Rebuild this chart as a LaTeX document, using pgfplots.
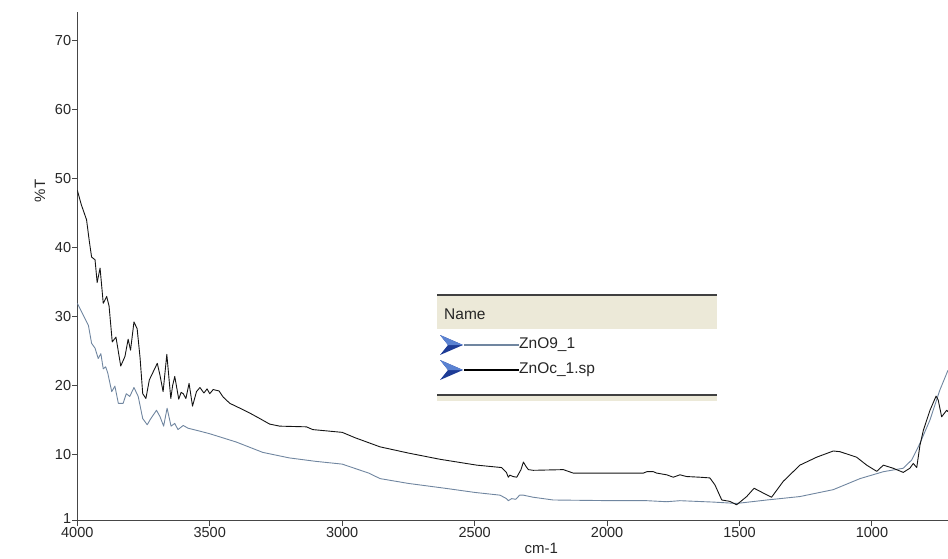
\documentclass[border=0pt]{standalone}
\usepackage{fontspec}
\setmainfont{Liberation Sans}
\usepackage{pgfplots}
\pgfplotsset{compat=1.18}
\definecolor{zgray}{RGB}{112,134,160}
\definecolor{zblack}{RGB}{20,20,20}
\definecolor{hdr}{RGB}{236,233,216}
\definecolor{axc}{RGB}{70,70,70}
\definecolor{arrowblue}{RGB}{30,60,150}
\definecolor{arrowlight}{RGB}{90,130,210}

\pgfplotstableread{
w T
4000 48.3
3985 46.2
3965 44.0
3955 41.0
3946 38.6
3933 38.2
3925 34.9
3914 37.0
3902 31.9
3889 32.9
3880 31.5
3868 26.3
3854 27.0
3836 22.8
3820 24.2
3808 26.7
3799 25.1
3786 29.2
3774 28.2
3763 24.0
3753 18.8
3741 18.1
3728 20.8
3713 22.0
3698 23.2
3688 21.5
3676 19.1
3662 24.5
3647 18.1
3640 20.0
3632 21.3
3617 18.0
3608 19.0
3600 18.8
3590 18.1
3578 20.3
3565 17.0
3550 19.1
3537 19.7
3522 18.9
3510 19.5
3500 18.8
3487 19.4
3465 19.2
3449 18.3
3424 17.4
3386 16.7
3349 16.0
3311 15.2
3274 14.4
3236 14.1
3135 14.0
3111 13.6
3000 13.2
2950 12.4
2857 11.1
2750 10.2
2631 9.3
2492 8.45
2398 8.1
2380 7.4
2373 6.7
2367 7.0
2355 6.8
2341 6.7
2325 7.8
2316 8.9
2305 8.2
2297 7.8
2279 7.7
2165 7.8
2128 7.3
1863 7.3
1850 7.5
1825 7.5
1813 7.3
1775 7.05
1750 6.7
1725 7.05
1700 6.8
1649 6.7
1612 6.6
1593 5.6
1567 3.4
1536 3.2
1511 2.7
1473 3.9
1445 5.1
1410 4.4
1379 3.8
1335 6.1
1272 8.45
1209 9.6
1146 10.5
1121 10.4
1058 9.6
1020 8.45
982 7.55
957 8.45
920 8.0
882 7.4
857 8.0
844 8.7
831 8.1
819 11.3
806 13.5
781 16.4
758 18.45
750 17.9
737 15.45
718 16.4
713 16.2
}\blackdata

\pgfplotstableread{
w T
4000 31.9
3975 30.0
3958 28.7
3946 26.1
3933 25.4
3921 23.9
3911 24.6
3902 22.4
3893 22.7
3885 21.8
3870 19.1
3858 19.9
3845 17.4
3827 17.4
3815 18.8
3802 18.4
3786 19.7
3770 18.4
3753 15.2
3736 14.3
3724 15.1
3701 16.4
3688 15.5
3674 14.1
3661 16.7
3646 14.1
3632 14.5
3620 13.6
3600 14.2
3582 13.8
3550 13.5
3500 13.0
3400 11.8
3300 10.3
3200 9.5
3100 9.0
3000 8.6
2900 7.3
2857 6.5
2750 5.8
2606 5.07
2500 4.5
2404 4.1
2380 3.6
2373 3.3
2360 3.6
2345 3.5
2330 4.1
2316 4.1
2279 3.8
2203 3.4
1977 3.3
1850 3.3
1775 3.15
1725 3.3
1600 3.1
1511 2.9
1397 3.4
1272 3.9
1146 4.9
1045 6.5
957 7.5
882 8.0
850 9.2
819 11.6
781 15.0
744 19.3
713 22.2
}\graydata

\begin{document}
\begin{tikzpicture}
\useasboundingbox (0,0) rectangle (948pt,-559pt);
\begin{axis}[
  at={(77.3pt,-520.7pt)}, anchor=south west,
  scale only axis, width=870.7pt, height=508.7pt,
  xmin=713, xmax=4000, x dir=reverse,
  ymin=0.4, ymax=74.1,
  axis x line*=bottom, axis y line*=left,
  axis line style={axc, line width=1.2pt, -},
  xtick={1000,1500,2000,2500,3000,3500,4000},
  xticklabels={1000,1500,2000,2500,3000,3500,4000},
  ytick={10,20,30,40,50,60,70},
  yticklabels={10,20,30,40,50,60,70},
  extra y ticks={0.4},
  extra y tick labels={1},
  extra y tick style={yticklabel style={yshift=2.5pt}},
  tick align=outside, major tick length=5pt,
  tick style={axc, line width=1pt},
  ticklabel style={font=\fontsize{14.5}{14.5}\selectfont, text=black!85},
  xticklabel style={inner sep=1.5pt},
  yticklabel style={inner sep=1pt},
  /pgf/number format/assume math mode=true,
  xlabel={cm-1},
  xlabel style={at={(axis description cs:0.533,-0.054)}, anchor=center, font=\fontsize{15}{15}\selectfont, text=black!85},
  ylabel={\%T},
  ylabel style={at={(axis description cs:-0.0428,0.648)}, anchor=center, rotate=0, font=\fontsize{15}{15}\selectfont, text=black!85},
  clip=true,
]
\addplot[zgray, line width=0.9pt, line join=round] table[x=w,y=T]{\graydata};
\addplot[zblack, line width=0.9pt, line join=round] table[x=w,y=T]{\blackdata};
\end{axis}
% legend panel
\fill[hdr] (437pt,-296pt) rectangle (717pt,-329pt);
\draw[black!75, line width=2pt] (437pt,-295pt) -- (717pt,-295pt);
\node[anchor=west, inner sep=0pt, font=\fontsize{15.5}{15.5}\selectfont, text=black!85] at (444pt,-314pt) {Name};
\fill[arrowblue] (440pt,-335pt) -- (463pt,-345pt) -- (440pt,-355pt) -- (448pt,-345pt) -- cycle;
\fill[arrowlight] (440pt,-335pt) -- (463pt,-345pt) -- (448pt,-345pt) -- cycle;
\draw[zgray, line width=1.3pt] (464pt,-345pt) -- (519pt,-345pt);
\node[anchor=west, inner sep=0pt, font=\fontsize{15.5}{15.5}\selectfont, text=black!85] at (519pt,-345pt) {ZnO9\_1};
\fill[arrowblue] (440pt,-360pt) -- (463pt,-370pt) -- (440pt,-380pt) -- (448pt,-370pt) -- cycle;
\fill[arrowlight] (440pt,-360pt) -- (463pt,-370pt) -- (448pt,-370pt) -- cycle;
\draw[black, line width=2pt] (464pt,-370pt) -- (519pt,-370pt);
\node[anchor=west, inner sep=0pt, font=\fontsize{15.5}{15.5}\selectfont, text=black!85] at (519pt,-370pt) {ZnOc\_1.sp};
\fill[hdr] (437pt,-396pt) rectangle (717pt,-401pt);
\draw[black!75, line width=2pt] (437pt,-395pt) -- (717pt,-395pt);
\end{tikzpicture}
\end{document}
